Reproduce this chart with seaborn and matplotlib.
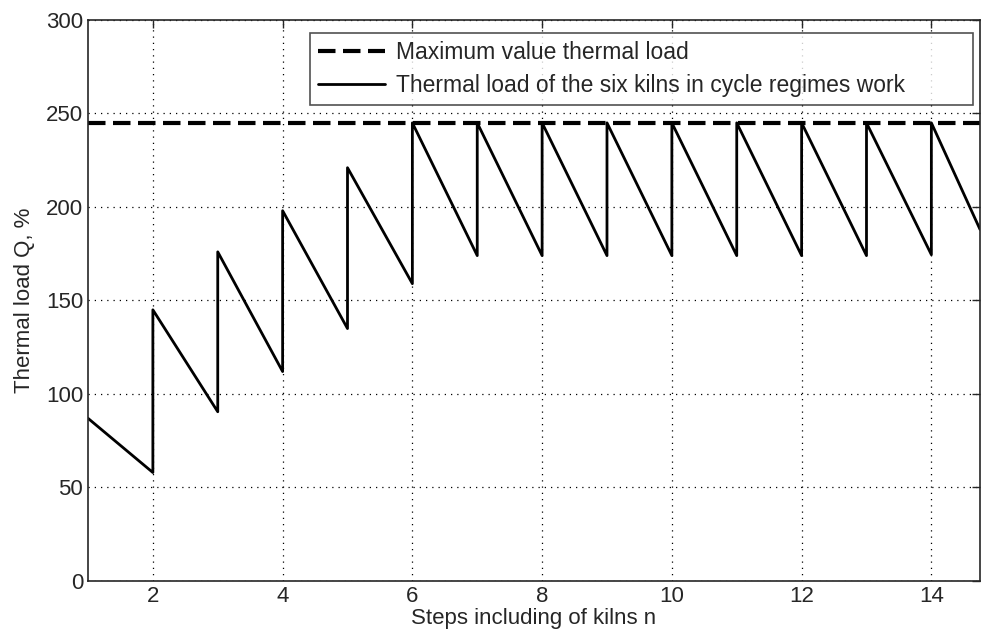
import pandas as pd
import seaborn as sns
import matplotlib.pyplot as plt

# datos
x_inicio = 1
q_inicio = 87
pasos = [2, 3, 4, 5, 6, 7, 8, 9, 10, 11, 12, 13, 14]
q_min = [58, 90.5, 112, 135, 159, 174, 174, 174, 174, 174, 174, 174, 174.5]
q_max = [145, 176, 198, 221, 245, 245, 245, 245, 245, 245, 245, 245, 245]
x_fin = 14.75
q_fin = 188
q_limite = 245

# armamos la curva diente de sierra
xs = [x_inicio]
ys = [q_inicio]
for p, lo, hi in zip(pasos, q_min, q_max):
    xs += [p, p]
    ys += [lo, hi]
xs.append(x_fin)
ys.append(q_fin)
df = pd.DataFrame({"n": xs, "Q": ys})

sns.set_style("white")
plt.rcParams['font.family'] = ['Liberation Sans', 'DejaVu Sans']

fig = plt.figure(figsize=(9.81, 6.39), dpi=100)
ax = fig.add_axes([0.0897, 0.0908, 0.9093, 0.8779])

ax.grid(True, linestyle=(0, (1, 4)), color="black", linewidth=0.9)
ax.set_axisbelow(True)

ax.plot([x_inicio, x_fin], [q_limite, q_limite], color="black", linewidth=3,
        dashes=(4.2, 1.8), label="Maximum value thermal load")
sns.lineplot(x="n", y="Q", data=df, sort=False, estimator=None, color="black",
             linewidth=2, ax=ax,
             label="Thermal load of the six kilns in cycle regimes work")

ax.set_xlim(1, x_fin)
ax.set_ylim(0, 300)
ax.set_xticks([2, 4, 6, 8, 10, 12, 14])
ax.set_yticks([0, 50, 100, 150, 200, 250, 300])
ax.tick_params(direction="in", top=True, right=True, length=6, width=1,
               labelsize=16, colors="#262626")
for s in ax.spines.values():
    s.set_color("#262626")
    s.set_linewidth(1.2)

ax.set_xlabel("Steps including of kilns n", fontsize=16, color="#262626", labelpad=1)
ax.set_ylabel("Thermal load Q, %", fontsize=16, color="#262626", labelpad=8)

# leyenda estirada al ancho de la caja original
leg = ax.legend(loc="upper left", bbox_to_anchor=(0.249, 0.8, 0.743, 0.177),
                mode="expand", fontsize=16.5,
                frameon=True, fancybox=False, edgecolor="#262626",
                handlelength=2.9, borderpad=0.35, labelspacing=0.42,
                handletextpad=0.5, borderaxespad=0)
leg.get_frame().set_linewidth(1.2)

plt.savefig("out.png", dpi=100)
